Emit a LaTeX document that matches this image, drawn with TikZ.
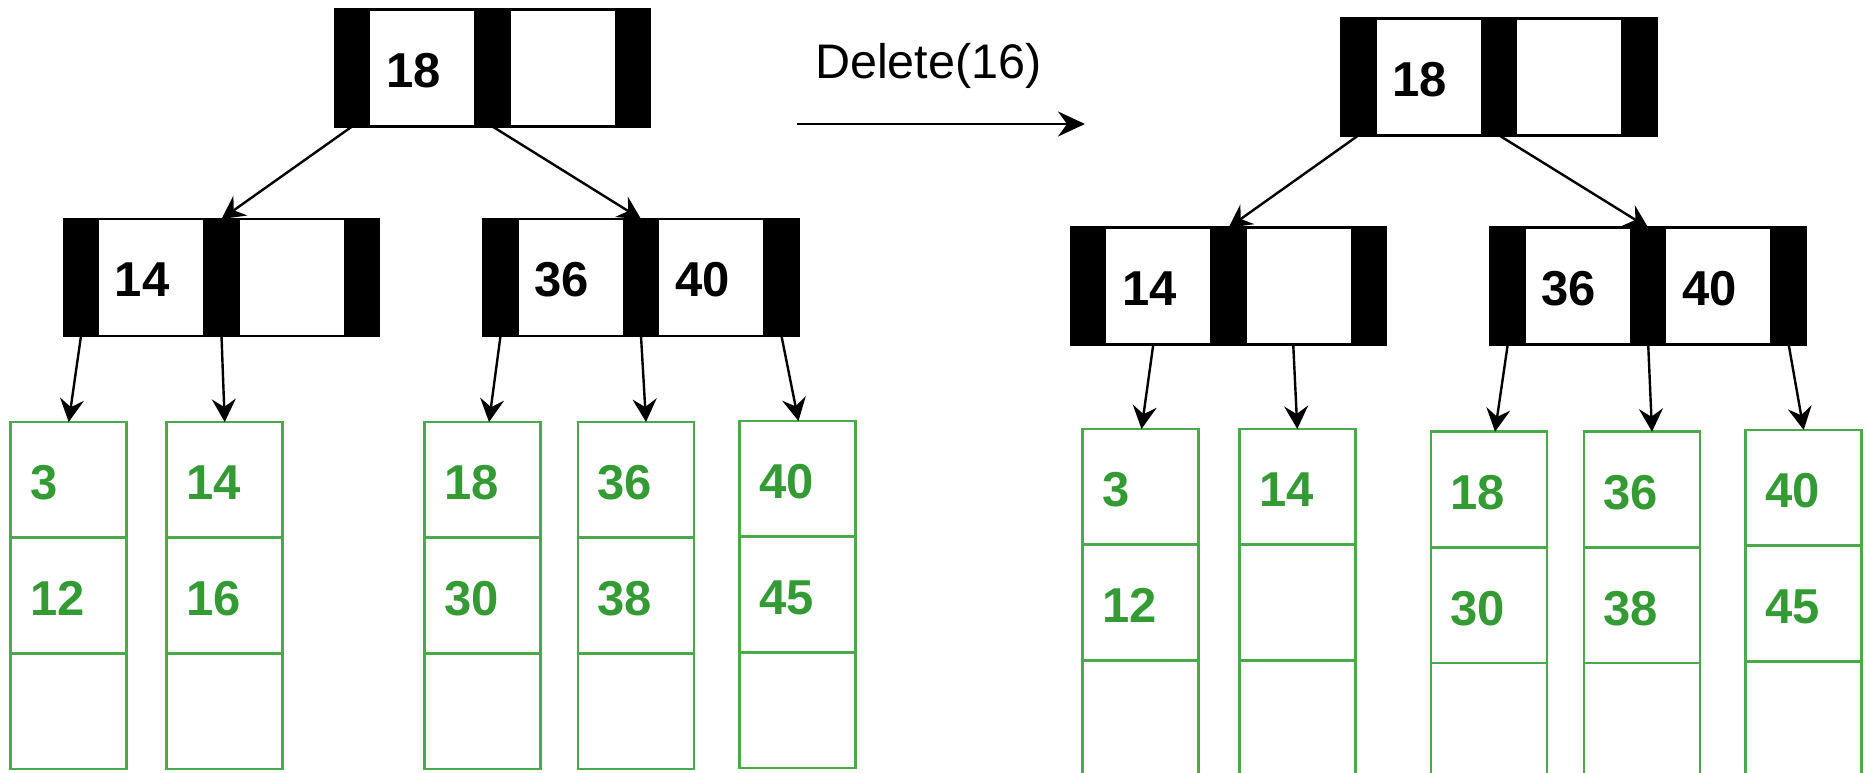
\documentclass[tikz,border=0pt]{standalone}
\usepackage{fontspec}
\setmainfont{Liberation Sans}
\usetikzlibrary{arrows.meta}
\definecolor{keygreen}{RGB}{52,154,52}
\definecolor{leafline}{RGB}{72,170,72}
\tikzset{
  keycell/.style={draw=black, fill=white, line width=2.5pt, minimum width=106.5pt,
    minimum height=117pt, inner sep=0pt, outer sep=0pt, anchor=north west},
  ptrbar/.style={draw=black, fill=black, line width=2.5pt, minimum width=34pt,
    minimum height=117pt, inner sep=0pt, outer sep=0pt, anchor=north west},
  keytext/.style={font=\fontsize{49}{59}\selectfont\bfseries, inner sep=0pt},
  leafcell/.style={draw=leafline, line width=2.6pt, minimum width=116pt,
    minimum height=115.7pt, inner sep=0pt, outer sep=0pt, anchor=north west},
  leaftext/.style={font=\fontsize{49}{59}\selectfont\bfseries, text=keygreen,
    inner sep=0pt, anchor=west},
  link/.style={line width=2.4pt, -{Stealth[length=23pt, width=24pt, inset=8pt]}},
  oplink/.style={line width=2.4pt, -{Stealth[length=27pt, width=25pt, inset=9pt]}},
  optext/.style={font=\fontsize{48.5}{58}\selectfont, inner sep=0pt, anchor=base west},
}
% key text of an index cell (skipped when the cell is empty)
\newcommand{\keylabel}[2]{\def\tmpkey{#2}\ifx\tmpkey\empty\else
  \node[keytext] (#1-t) at ([xshift=-9pt,yshift=-2.5pt]#1.center) {#2};\fi}
% key text of a leaf cell
\newcommand{\leaflabel}[2]{\def\tmpkey{#2}\ifx\tmpkey\empty\else
  \node[leaftext] (#1-t) at ([xshift=19.5pt,yshift=-3pt]#1.west) {#2};\fi}
% index node: pointer bar, key, pointer bar, key, pointer bar
\newcommand{\treenode}[5]{%
  \node[ptrbar] (#1-b0) at (#2,#3) {};
  \node[keycell] (#1-k1) at (#1-b0.north east) {};
  \node[ptrbar] (#1-b1) at (#1-k1.north east) {};
  \node[keycell] (#1-k2) at (#1-b1.north east) {};
  \node[ptrbar] (#1-b2) at (#1-k2.north east) {};
  \keylabel{#1-k1}{#4}
  \keylabel{#1-k2}{#5}
}
% leaf block of three stacked cells
\newcommand{\leafnode}[5]{%
  \node[leafcell] (#1-c1) at (#2,#3) {};
  \node[leafcell] (#1-c2) at (#1-c1.south west) {};
  \node[leafcell] (#1-c3) at (#1-c2.south west) {};
  \leaflabel{#1-c1}{#4}
  \leaflabel{#1-c2}{#5}
}
\begin{document}
\begin{tikzpicture}[x=1pt, y=-1pt]
\useasboundingbox (0,0) rectangle (1869,772);
\clip (0,0) rectangle (1869,772);

% tree before the deletion
\treenode{Lroot}{335}{9.5}{18}{}
\treenode{La}{64}{219}{14}{}
\treenode{Lb}{483.5}{219}{36}{40}
\leafnode{Ll1}{10.7}{422}{3}{12}
\leafnode{Ll2}{166.7}{422}{14}{16}
\leafnode{Ll3}{424.5}{422}{18}{30}
\leafnode{Ll4}{578}{422}{36}{38}
\leafnode{Ll5}{739.5}{421}{40}{45}

% tree after the deletion
\treenode{Rroot}{1341.5}{18.3}{18}{}
\treenode{Ra}{1071}{227.7}{14}{}
\treenode{Rb}{1490.7}{227.7}{36}{40}
\leafnode{Rl1}{1082.5}{429}{3}{12}
\leafnode{Rl2}{1239.3}{429}{14}{}
\leafnode{Rl3}{1431}{431.7}{18}{30}
\leafnode{Rl4}{1584}{431.7}{36}{38}
\leafnode{Rl5}{1745.7}{430}{40}{45}

% operation
\node[optext] (op) at (815,78.5) {Delete(16)};
\coordinate (opstart) at (797,124);
\coordinate (opend) at (1085,124);
\draw[oplink] (opstart) -- (opend);

% pointers, left tree
\draw[link] (Lroot-b0.south) -- (La-b1.north);
\draw[link] (Lroot-b1.south) -- (Lb-b1.north);
\draw[link] (La-b0.south) -- (Ll1-c1.north);
\draw[link] (La-b1.south) -- (Ll2-c1.north);
\draw[link] (Lb-b0.south) -- ([xshift=6.5pt]Ll3-c1.north);
\draw[link] (Lb-b1.south) -- ([xshift=10pt]Ll4-c1.north);
\draw[link] (Lb-b2.south) -- ([xshift=1pt]Ll5-c1.north);

% pointers, right tree
\draw[link] (Rroot-b0.south) -- (Ra-b1.north);
\draw[link] (Rroot-b1.south) -- (Rb-b1.north);
\draw[link] ([xshift=-5pt]Ra-k1.south) -- ([xshift=1pt]Rl1-c1.north);
\draw[link] ([xshift=-5.5pt]Ra-k2.south) -- (Rl2-c1.north);
\draw[link] (Rb-b0.south) -- ([xshift=6pt]Rl3-c1.north);
\draw[link] (Rb-b1.south) -- ([xshift=10pt]Rl4-c1.north);
\draw[link] (Rb-b2.south) -- (Rl5-c1.north);
\end{tikzpicture}
\end{document}
